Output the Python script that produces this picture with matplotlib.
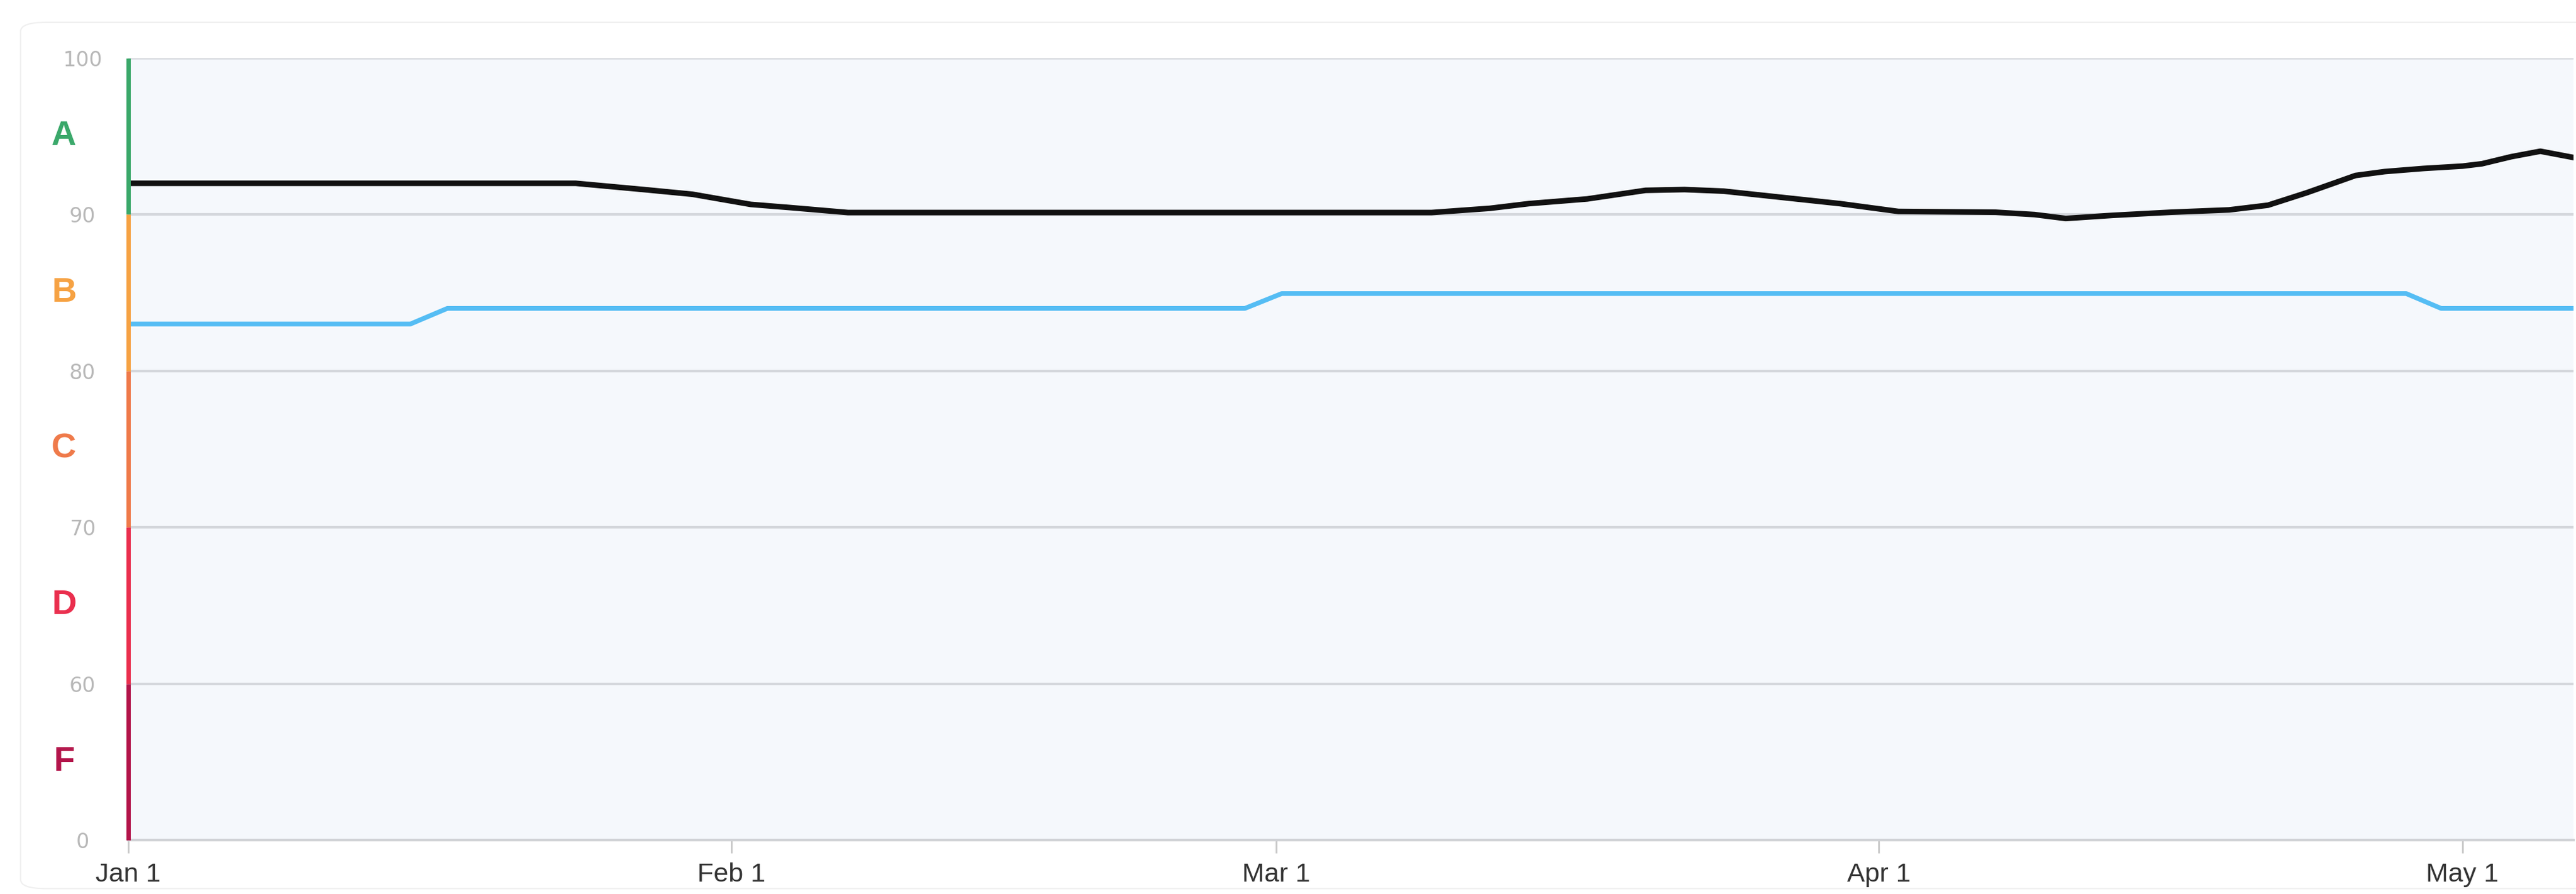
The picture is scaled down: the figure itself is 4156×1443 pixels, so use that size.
import matplotlib.pyplot as plt
from matplotlib.patches import FancyBboxPatch
import numpy as np
import pandas as pd

start = pd.Timestamp("2019-01-01")

# score line (days since Jan 1, value)
score_days = [0, 23, 26.5, 29, 32, 34, 37, 67, 70, 72, 75, 78, 80, 82, 85, 88, 91,
              96, 98, 99.6, 102, 105, 108, 110, 112, 114.5, 116, 118, 120, 121,
              122.5, 124, 125.7]
score_vals = [92.0, 92.0, 91.6, 91.3, 90.65, 90.45, 90.13, 90.13, 90.4, 90.7, 91.0,
              91.55, 91.6, 91.5, 91.1, 90.7, 90.2, 90.15, 90.0, 89.75, 89.95, 90.15,
              90.3, 90.6, 91.4, 92.5, 92.75, 92.95, 93.1, 93.25, 93.7, 94.05, 93.65]

# benchmark line
bench_days = [0, 14.5, 16.4, 57.4, 59.3, 117.1, 118.9, 125.7]
bench_vals = [83.0, 83.0, 84.0, 84.0, 84.95, 84.95, 84.0, 84.0]

grades = ["A", "B", "C", "D", "F"]
grade_lo = [90, 80, 70, 60, 0]
grade_hi = [100, 90, 80, 70, 60]
grade_mid = [95, 85, 75, 65, 30]
grade_colors = ["#3aa86a", "#f6a243", "#ef7a4a", "#ea2f4e", "#b3144a"]

ytick_vals = [0, 60, 70, 80, 90, 100]
month_ticks = ["2019-01-01", "2019-02-01", "2019-03-01", "2019-04-01", "2019-05-01"]
month_labels = ["Jan 1", "Feb 1", "Mar 1", "Apr 1", "May 1"]


def fwd(y):
    y = np.asarray(y, dtype=float)
    return np.where(y >= 60, y, 50 + y / 6.0)


def inv(t):
    t = np.asarray(t, dtype=float)
    return np.where(t >= 60, t, (t - 50) * 6.0)


fig = plt.figure(figsize=(41.56, 14.43), dpi=100)
fig.patch.set_facecolor("white")

card = FancyBboxPatch((0.008, 0.006), 1.1, 0.969, boxstyle="round,pad=0,rounding_size=0.01",
                      transform=fig.transFigure, facecolor="none", edgecolor="#efefef",
                      lw=1.5, zorder=-10)
fig.patches.append(card)

ax = fig.add_axes([0.0498, 0.0603, 0.9492, 0.8746])
ax.set_facecolor("#f5f8fc")

ax.set_yscale("function", functions=(fwd, inv))
ax.set_ylim(0, 100)

x_score = start + pd.to_timedelta(score_days, unit="D")
x_bench = start + pd.to_timedelta(bench_days, unit="D")

ax.plot(x_bench, bench_vals, color="#55bdf4", lw=5.5, zorder=3, solid_joinstyle="round")
ax.plot(x_score, score_vals, color="#111111", lw=6.5, zorder=4, solid_joinstyle="round")

ax.set_xlim(start, start + pd.Timedelta(days=125.7))

ax.set_yticks(ytick_vals)
ax.set_yticklabels([str(v) for v in ytick_vals])
ax.yaxis.grid(True, color="#d4d7dc", lw=3)
ax.set_axisbelow(True)
ax.tick_params(axis="y", length=0, pad=53, labelsize=24, labelcolor="#b8b8b8")
for lab in ax.get_yticklabels():
    lab.set_horizontalalignment("center")

ax.set_xticks(pd.to_datetime(month_ticks))
ax.set_xticklabels(month_labels)
ax.tick_params(axis="x", length=15, width=2, color="#c8c8c8", pad=11,
               labelsize=31, labelcolor="#333333")
for lab in ax.get_xticklabels():
    lab.set_fontfamily("Liberation Sans")

for s in ["top", "right", "left"]:
    ax.spines[s].set_visible(False)
ax.spines["bottom"].set_color("#d0d2d6")
ax.spines["bottom"].set_linewidth(3)

# grade bands on the left axis
ytr = ax.get_yaxis_transform()
for g, lo, hi, mid, c in zip(grades, grade_lo, grade_hi, grade_mid, grade_colors):
    ax.plot([0, 0], [lo, hi], color=c, lw=5, transform=ytr, clip_on=False,
            solid_capstyle="butt", zorder=6)
    ax.text(-0.0264, mid, g, transform=ytr, ha="center", va="center",
            fontsize=40, fontweight="bold", color=c, family="Liberation Sans")

fig.savefig("out.png", dpi=100)
